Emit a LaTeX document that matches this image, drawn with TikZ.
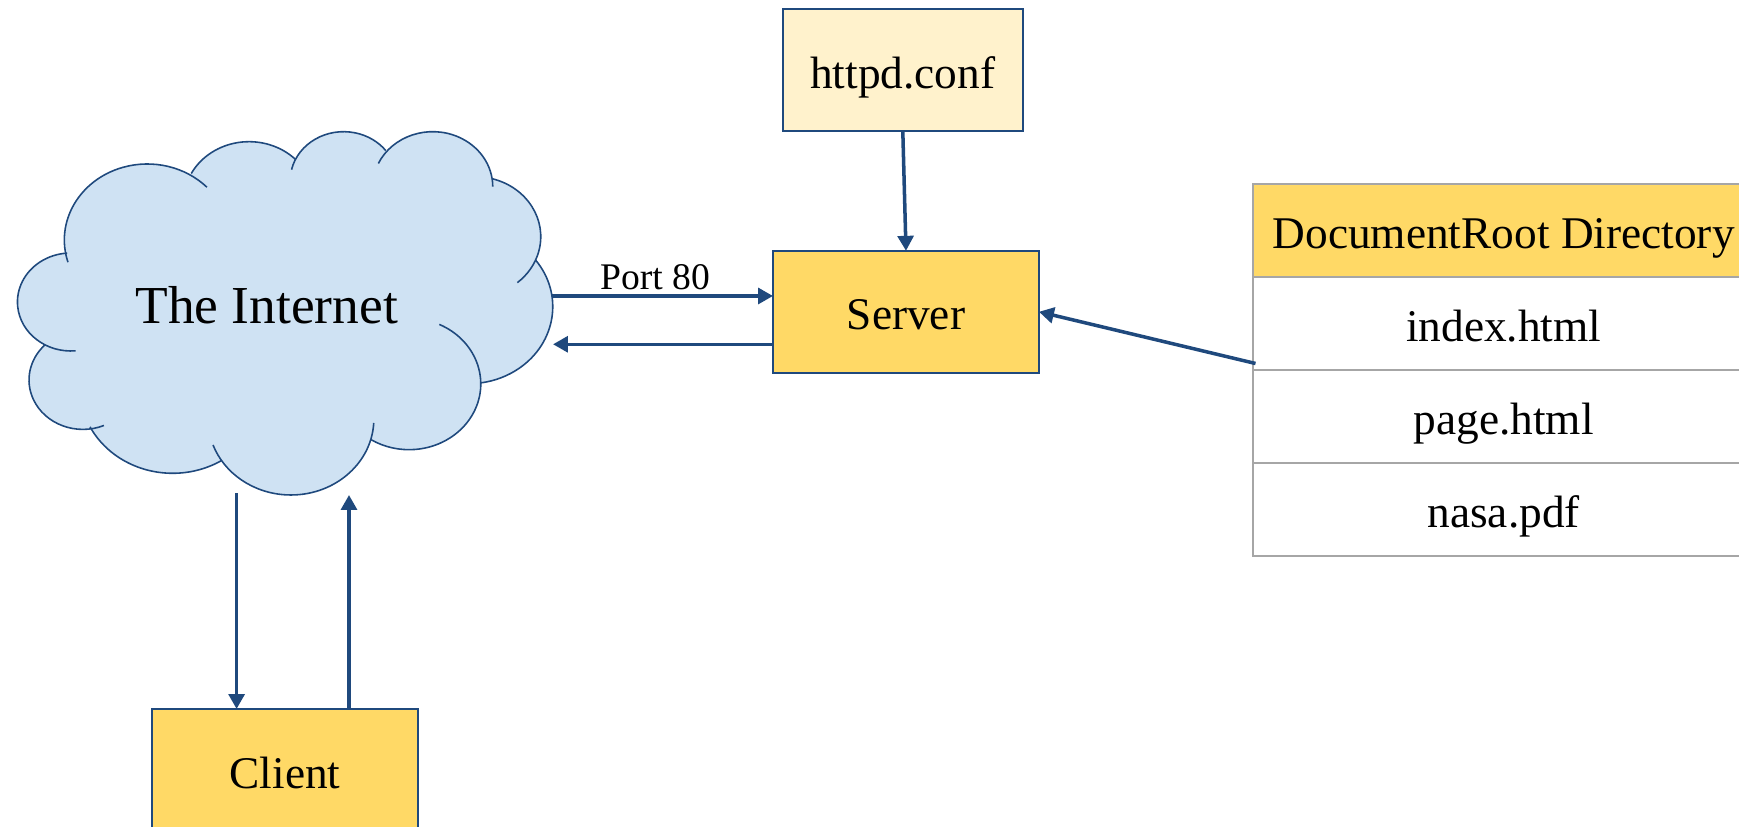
\documentclass[tikz,border=0pt]{standalone}
\usepackage{fontspec}
\setmainfont{Liberation Serif}
\usetikzlibrary{arrows.meta,positioning}
\definecolor{boxline}{HTML}{1F497D}
\definecolor{boxyellow}{HTML}{FFD966}
\definecolor{boxcream}{HTML}{FFF2CC}
\definecolor{cloudblue}{HTML}{CFE2F3}
\definecolor{tablegray}{HTML}{A6A6A6}
\tikzset{
  bigtext/.style={font=\fontsize{25.8}{30}\selectfont,text height=20.6pt,text depth=0pt},
  hostbox/.style={draw=boxline,line width=1.1pt,fill=boxyellow,bigtext,minimum width=5.32cm,minimum height=2.44cm,outer sep=0pt},
  confbox/.style={hostbox,fill=boxcream,minimum width=4.79cm},
  tablecell/.style={draw=tablegray,line width=1.1pt,fill=white,bigtext,minimum width=10.04cm,minimum height=1.86cm,outer sep=0pt},
  flow/.style={draw=boxline,line width=2pt,-{Triangle[length=8.5pt,width=9pt]}},
}
\begin{document}
\begin{tikzpicture}[x=0.02cm,y=0.02cm]
\useasboundingbox (0,0) rectangle (1739,827);

%cloud
\begin{scope}[xscale=1.0909]
\fill[cloudblue] (135,587)--(228,625)--(315,646)--(397,640)--(436,590)--(430,520)--(375,443)--(267,408)--(158,439)--(76,447)--(65,525)--cycle;
\foreach \cx/\cy/\r/\from/\to in {135/587/76/197/44, 228.3/625.3/60/152/45, 315/646.3/49/167/38, 396.7/640.3/55/155/0, 435.7/590.3/60/75/-50, 429.7/520.3/77/37/-82, 375/443/65.7/65/-122, 266.7/408/76/-3/-160, 158.3/438.7/85/-58/-153, 76/447/49.4/-67/-225, 65/525/49/-85/-266}{
  \fill[cloudblue] (\cx,\cy) circle[radius=\r];
}
\foreach \cx/\cy/\r/\from/\to in {135/587/76/197/44, 228.3/625.3/60/152/45, 315/646.3/49/167/38, 396.7/640.3/55/155/0, 435.7/590.3/60/75/-50, 429.7/520.3/77/37/-82, 375/443/65.7/65/-122, 266.7/408/76/-3/-160, 158.3/438.7/85/-58/-153, 76/447/49.4/-67/-225, 65/525/49/-85/-266}{
  \draw[boxline,line width=0.9pt] (\cx,\cy) ++(\from:\r) arc[start angle=\from,end angle=\to,radius=\r];
}
\end{scope}
\node[font=\fontsize{30.4}{34}\selectfont,inner sep=0pt,anchor=base] (internet) at (266.7,503) {The Internet};

\node[hostbox] (server) at (906,515.2) {Server};
\node[confbox] (httpd) at (902.8,757) {httpd.conf};
\node[hostbox] (client) at (285,57) {Client};

\node[tablecell,fill=boxyellow] (rootdir) at (1503.7,596.4) {DocumentRoot Directory};
\node[tablecell,below=0pt of rootdir] (index) {index.html};
\node[tablecell,below=0pt of index] (page) {page.html};
\node[tablecell,below=0pt of page] (nasa) {nasa.pdf};

\coordinate (portin) at (552,531);
\coordinate (portout) at (553,482.7);
\coordinate (clientout) at (236.6,333.5);
\coordinate (clientin) at (349,332);
\coordinate (rootout) at (1255.5,463.5);

\draw[flow] (httpd.south)--(server.north);
\draw[flow] (portin)--(portin -| server.west);
\draw[flow] (portout -| server.west)--(portout);
\draw[flow] (rootout)--(server.east);
\draw[flow] (clientout)--(clientout |- client.north);
\draw[flow] (clientin |- client.north)--(clientin);
\node[font=\fontsize{21.4}{25}\selectfont,inner sep=0pt,anchor=base] (port) at (655,537) {Port 80};

\end{tikzpicture}
\end{document}
